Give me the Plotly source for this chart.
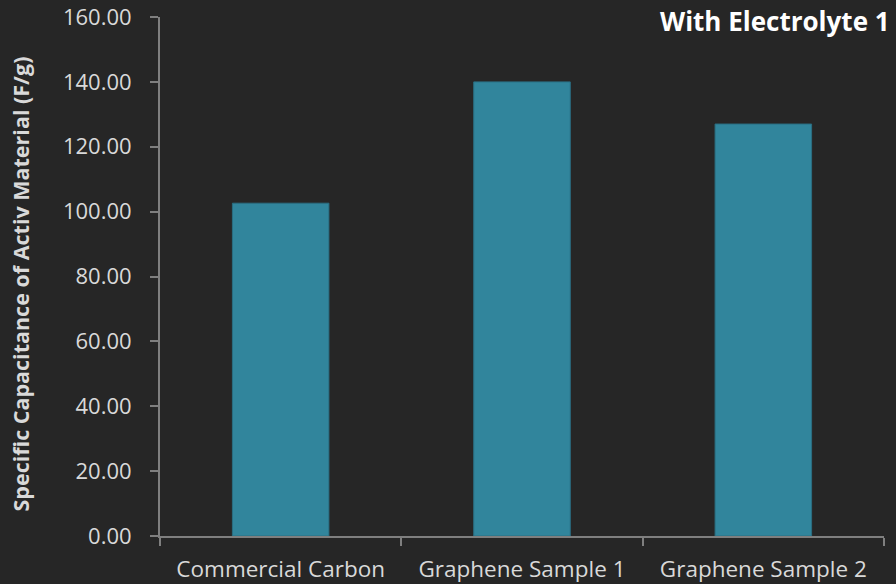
import plotly.graph_objects as go

categories = ["Commercial Carbon", "Graphene Sample 1", "Graphene Sample 2"]
capacitance = [102.6, 140.0, 127.0]
y_ticks = [0, 20, 40, 60, 80, 100, 120, 140, 160]

bg = "#262626"
txt = "#d9d9d9"
axis_col = "#7f7f7f"
font_family = "Open Sans, Lato, sans-serif"

# plot area in pixels
L, R, T, B = 160, 12, 17, 48
W, H = 896, 584
plot_w = W - L - R

fig = go.Figure(
    go.Bar(
        x=categories,
        y=capacitance,
        width=0.4,
        marker=dict(color="#31859c", line=dict(color="#2a6e82", width=1)),
        hoverinfo="x+y",
    )
)

fig.update_layout(
    width=W,
    height=H,
    margin=dict(l=L, r=R, t=T, b=B),
    paper_bgcolor=bg,
    plot_bgcolor=bg,
    font=dict(family=font_family, color=txt, size=18),
    showlegend=False,
    bargap=0.6,
)

fig.update_xaxes(
    automargin=False,
    showgrid=False,
    showline=True,
    linecolor=axis_col,
    linewidth=2,
    ticks="outside",
    tickson="boundaries",
    ticklen=8,
    tickcolor=axis_col,
    tickwidth=2,
    ticklabelstandoff=12,
    tickfont=dict(size=22.5, color=txt),
)

fig.update_yaxes(
    automargin=False,
    range=[0, 160],
    tickvals=y_ticks,
    ticktext=[f"{v:.2f}" for v in y_ticks],
    showgrid=False,
    zeroline=False,
    showline=True,
    linecolor=axis_col,
    linewidth=2,
    ticks="outside",
    ticklen=8,
    tickcolor=axis_col,
    tickwidth=2,
    ticklabelstandoff=14,
    tickfont=dict(size=22, color=txt),
)

# y-axis title
fig.add_annotation(
    text="<b>Specific Capacitance of Activ Material (F/g)</b>",
    xref="paper", yref="paper",
    x=(20 - L) / plot_w, y=0.5,
    xanchor="center", yanchor="middle",
    yshift=-8,
    textangle=-90,
    showarrow=False,
    font=dict(size=21.5, color=txt),
)

# chart title, top right
fig.add_annotation(
    text="<b>With Electrolyte 1</b>",
    xref="paper", yref="paper",
    x=1.0, y=1.0,
    xanchor="right", yanchor="middle",
    xshift=8, yshift=-21 + T,
    showarrow=False,
    font=dict(size=26, color="#ffffff"),
)

fig.write_html("out.html")
